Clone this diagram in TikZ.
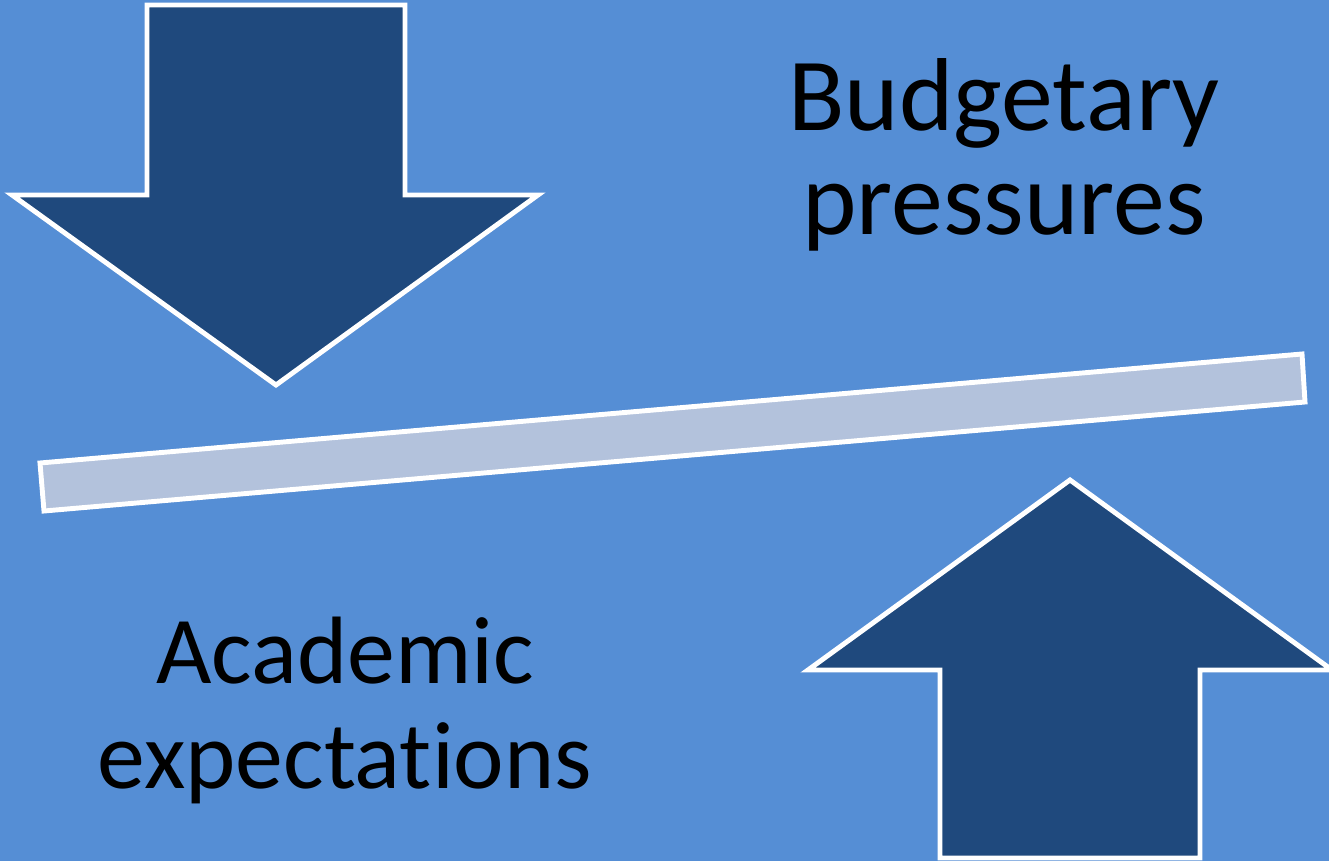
\documentclass[tikz,border=0pt]{standalone}
\usepackage{fontspec}
\setmainfont{Carlito}[Ligatures = NoCommon]
\usepackage{tikz}
\usetikzlibrary{positioning}

\definecolor{slideblue}{HTML}{558ED5}
\definecolor{arrowblue}{HTML}{1F497D}
\definecolor{beamgray}{HTML}{B3C2DC}

\begin{document}
\begin{tikzpicture}[x = 0.02cm, y = -0.02cm,
    block/.style = {draw = white, line width = 2.8pt, miter limit = 10},
    label/.style = {align = center, inner sep = 0pt, anchor = base}]
    \useasboundingbox (0,0) rectangle (1329,861);
    \clip (0,0) rectangle (1329,861);
    \fill [slideblue] (0,0) rectangle (1329,861);

    % down arrow, up arrow and the beam between them
    \draw [block, fill = arrowblue] (147,5) -- (405,5) -- (405,195) -- (538,195)
        -- (276,385) -- (12,195) -- (147,195) -- cycle;
    \draw [block, fill = arrowblue] (1070,480) -- (1332,670) -- (1200,670) -- (1200,858)
        -- (940,858) -- (940,670) -- (808,670) -- cycle;
    \draw [block, fill = beamgray] (40,463) -- (1302,354) -- (1305,402) -- (44,511) -- cycle;

    \node (budget) [label, font = \fontsize{59}{59.5}\selectfont] at (1004,235)
        {Budgetary\\pressures};
    \node (academic) [label, font = \fontsize{54.5}{59.5}\selectfont] at (345,788)
        {Academic\\expectations};
\end{tikzpicture}
\end{document}
